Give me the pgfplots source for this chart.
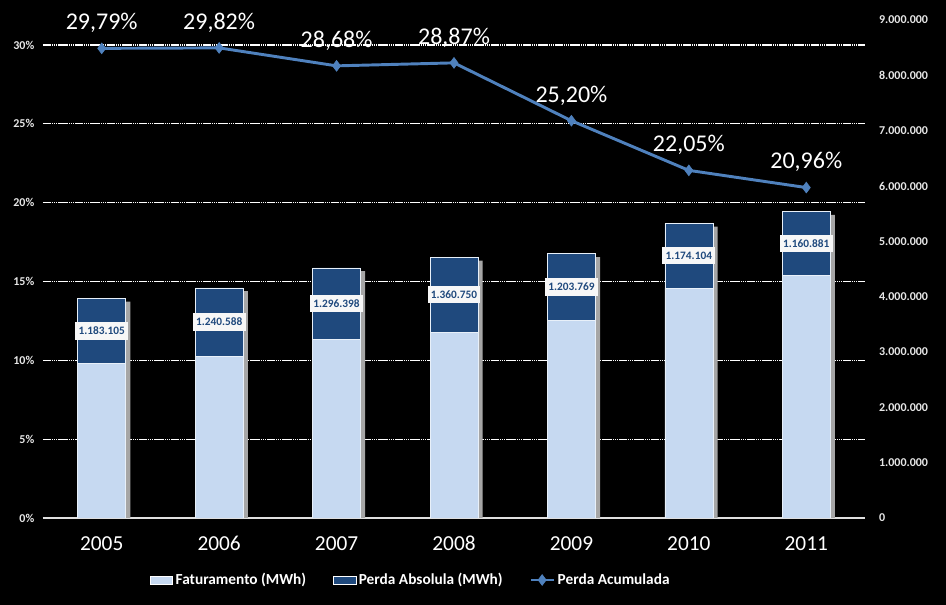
\documentclass[border=0pt]{standalone}
\usepackage{pgfplots}
\pgfplotsset{compat=1.18}
\usepackage{pgfplotstable}
\usepackage{fontspec}
\setmainfont{Carlito}
\definecolor{fatc}{HTML}{C6D9F1}
\definecolor{perdac}{HTML}{1F497D}
\definecolor{linec}{HTML}{4F81BD}
\definecolor{tickc}{HTML}{E6E6E6}
\pgfplotstableread{
x fat loss lab pct
0 2788379 1183105 1.183.105 29.79
1 2919712 1240588 1.240.588 29.82
2 3223832 1296398 1.296.398 28.68
3 3352590 1360750 1.360.750 28.87
4 3573014 1203769 1.203.769 25.20
5 4150608 1174104 1.174.104 22.05
6 4377690 1160881 1.160.881 20.96
}\data
\pgfplotsset{
  base/.style={width=616.5pt,height=373.5pt,scale only axis,at={(0pt,0pt)},anchor=south west,xmin=-0.5,xmax=6.5},
  hidden/.style={base,hide axis},
  rightscale/.style={ymin=0,ymax=9000000,scaled y ticks=false},
  leftscale/.style={ymin=0,ymax=31.59},
}
\begin{document}
\begin{tikzpicture}
\fill[black] (-32.25pt,-65.25pt) rectangle (677.25pt,388.5pt);
% grid, left ticks, years
\begin{axis}[base,leftscale,
  axis x line*=bottom, axis y line*=left,
  x axis line style={draw=white!75!gray, line width=1.2pt},
  y axis line style={draw=none},
  major tick length=0pt,
  ytick={0,5,10,15,20,25,30},
  yticklabels={0\%,5\%,10\%,15\%,20\%,25\%,30\%},
  yticklabel style={tickc, font=\bfseries\fontsize{9}{9}\selectfont, xshift=-3pt},
  xtick={0,1,2,3,4,5,6},
  xticklabels={2005,2006,2007,2008,2009,2010,2011},
  xticklabel style={white, font=\fontsize{16}{16}\selectfont, text height=11pt, text depth=0pt, yshift=-10pt},
  ymajorgrids,
  major grid style={white, line width=0.9pt, dash pattern=on 1.2pt off 0.4pt},
]
\addplot[draw=none] coordinates {(0,0)};
\end{axis}
% shadow of bars
\begin{axis}[hidden,rightscale]
\addplot[ybar, bar width=36pt, bar shift=3.5pt, fill=black!35, draw=none, yshift=-2.5pt]
  table[x=x, y expr=\thisrow{fat}+\thisrow{loss}] {\data};
\end{axis}
% stacked bars, right axis
\begin{axis}[base,rightscale, ybar stacked, bar width=36pt,
  axis x line=none, axis y line*=right,
  y axis line style={draw=none},
  major tick length=0pt,
  ytick={0,1000000,2000000,3000000,4000000,5000000,6000000,7000000,8000000,9000000},
  yticklabels={0,1.000.000,2.000.000,3.000.000,4.000.000,5.000.000,6.000.000,7.000.000,8.000.000,9.000.000},
  yticklabel style={tickc, font=\bfseries\fontsize{9}{9}\selectfont, xshift=7pt},
]
\addplot[fill=fatc, draw=white!60!fatc] table[x=x,y=fat] {\data};
\addplot[fill=perdac, draw=white!60!fatc] table[x=x,y=loss] {\data};
\end{axis}
% bar labels
\begin{axis}[hidden,rightscale]
\addplot[draw=none, mark=none, nodes near coords, point meta=explicit symbolic,
  every node near coord/.append style={anchor=center, fill=white!94!gray, text=perdac,
    font=\bfseries\fontsize{8.5}{8.5}\selectfont, inner xsep=2.5pt, inner ysep=3.5pt}]
  table[x=x, y expr=\thisrow{fat}+0.5*\thisrow{loss}, meta=lab] {\data};
\end{axis}
% line + legend
\begin{axis}[hidden,leftscale, clip=false,
  legend style={at={(axis description cs:0.4477,-0.1245)}, anchor=center, draw=none, fill=none,
    text=white, font=\bfseries\fontsize{11.5}{11.5}\selectfont, legend columns=3,
    /tikz/every even column/.append style={column sep=18pt}},
]
\addlegendimage{area legend, fill=fatc, draw=white}
\addlegendentry{Faturamento (MWh)}
\addlegendimage{area legend, fill=perdac, draw=white}
\addlegendentry{Perda Absolula (MWh)}
\addplot[linec, line width=2.2pt, mark=diamond*, mark size=4pt, mark options={solid, line width=0.5pt},
  nodes near coords={\pgfmathprintnumber[fixed,fixed zerofill,precision=2,use comma,assume math mode=true]{\pgfplotspointmeta}\%},
  every node near coord/.append style={white, font=\fontsize{18}{18}\selectfont, anchor=base, inner sep=0pt, yshift=14pt}]
  table[x=x,y=pct] {\data};
\addlegendentry{Perda Acumulada}
\end{axis}
\pgfresetboundingbox
\useasboundingbox (-32.25pt,-65.25pt) rectangle (677.25pt,388.5pt);
\end{tikzpicture}
\end{document}
